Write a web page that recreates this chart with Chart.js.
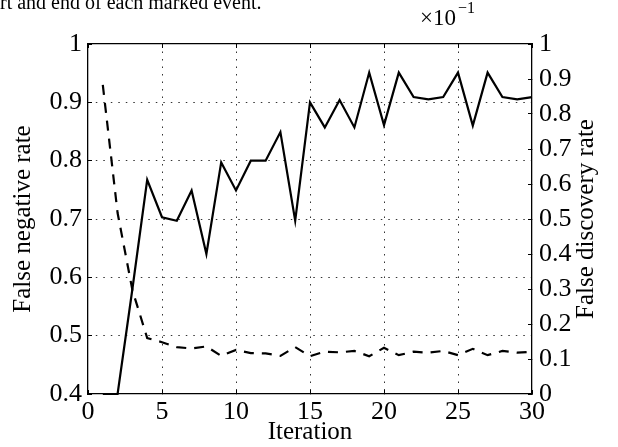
<!DOCTYPE html>
<html>
<head>
<meta charset="utf-8">
<script src="https://cdn.jsdelivr.net/npm/chart.js@4"></script>
<style>
  html, body { margin: 0; padding: 0; background: #fff; }
  #wrap { position: relative; width: 618px; height: 447px; }
</style>
</head>
<body>
<div id="wrap"><canvas id="chart" width="618" height="447"></canvas></div>
<script>
const iterations = [1, 2, 3, 4, 5, 6, 7, 8, 9, 10, 11, 12, 13, 14, 15,
                    16, 17, 18, 19, 20, 21, 22, 23, 24, 25, 26, 27, 28, 29, 30];
// false negative rate (left axis)
const falseNegative = [0.4, 0.4, 0.58, 0.767, 0.703, 0.697, 0.749, 0.64, 0.797, 0.749,
                       0.8, 0.8, 0.849, 0.697, 0.9, 0.857, 0.904, 0.857, 0.951, 0.861,
                       0.951, 0.909, 0.905, 0.909, 0.951, 0.86, 0.951, 0.909, 0.905, 0.909];
// false discovery rate, in units of 1e-1 (right axis)
const falseDiscovery = [0.883, 0.517, 0.297, 0.16, 0.148, 0.134, 0.13, 0.136, 0.109, 0.126,
                        0.117, 0.116, 0.109, 0.134, 0.108, 0.121, 0.119, 0.123, 0.108, 0.132,
                        0.111, 0.121, 0.118, 0.123, 0.111, 0.129, 0.111, 0.123, 0.118, 0.121];
const xTicks = [0, 5, 10, 15, 20, 25, 30];
const caption = 'rt and end of each marked event.';
const leftTitle = 'False negative rate';
const rightTitle = 'False discovery rate';
const bottomTitle = 'Iteration';

const SERIF = '"Liberation Serif", "Times New Roman", serif';
const tickFont = { family: SERIF, size: 26 };
const dotted = [1.5, 6];

const fmt = (v) => (Math.abs(v - 1) < 1e-9 ? '1' : Math.abs(v) < 1e-9 ? '0' : v.toFixed(1));
const hideEdge = (lo, hi) => (c) =>
    (c.tick && (Math.abs(c.tick.value - lo) < 1e-6 || Math.abs(c.tick.value - hi) < 1e-6)) ? 'rgba(0,0,0,0)' : '#333';

const extraText = {
    id: 'extraText',
    afterDraw(chart) {
        const ctx = chart.ctx;
        const area = chart.chartArea;
        ctx.save();
        ctx.fillStyle = '#000';
        // clipped caption line from the page above
        ctx.font = '20px ' + SERIF;
        ctx.textBaseline = 'alphabetic';
        ctx.textAlign = 'left';
        ctx.fillText(caption, 0, 9);
        // exponent label above right axis
        ctx.font = '23px ' + SERIF;
        ctx.fillText('×10', area.right - 112, 25);
        ctx.font = '16px ' + SERIF;
        ctx.fillText('−1', area.right - 74, 13);
        // right axis title, reading bottom to top
        ctx.font = '25px ' + SERIF;
        ctx.textAlign = 'center';
        ctx.textBaseline = 'middle';
        ctx.translate(area.right + 54, (area.top + area.bottom) / 2);
        ctx.rotate(-Math.PI / 2);
        ctx.fillText(rightTitle, 0, 0);
        ctx.restore();
    }
};

const ctx = document.getElementById('chart').getContext('2d');
new Chart(ctx, {
    type: 'line',
    data: {
        datasets: [{
            label: leftTitle,
            data: iterations.map((x, i) => ({ x: x, y: falseNegative[i] })),
            yAxisID: 'y',
            borderColor: '#000',
            borderWidth: 2.2,
            pointRadius: 0,
            tension: 0,
            clip: 4
        }, {
            label: rightTitle,
            data: iterations.map((x, i) => ({ x: x, y: falseDiscovery[i] })),
            yAxisID: 'y2',
            borderColor: '#000',
            borderWidth: 2.2,
            borderDash: [10, 8],
            pointRadius: 0,
            tension: 0
        }]
    },
    options: {
        responsive: false,
        animation: false,
        devicePixelRatio: 1,
        layout: { padding: { top: 44, bottom: 0, left: 0, right: 0 } },
        plugins: { legend: { display: false }, tooltip: { enabled: false } },
        scales: {
            x: {
                type: 'linear',
                position: 'bottom',
                min: 0, max: 30,
                afterBuildTicks: (s) => { s.ticks = xTicks.map(v => ({ value: v })); },
                afterFit: (s) => { s.height = 53; },
                ticks: { font: tickFont, color: '#000', padding: 7, maxRotation: 0, autoSkip: false },
                grid: {
                    color: hideEdge(0, 30),
                    lineWidth: 1,
                    tickLength: -4,
                    tickColor: '#000',
                    tickBorderDash: []
                },
                border: { display: true, color: '#000', width: 1.3, dash: dotted },
                title: {
                    display: true, text: bottomTitle, color: '#000',
                    font: { family: SERIF, size: 25 },
                    padding: { top: 0, bottom: 0 }
                }
            },
            x2: {
                type: 'linear',
                position: 'top',
                min: 0, max: 30,
                afterBuildTicks: (s) => { s.ticks = xTicks.map(v => ({ value: v })); },
                afterFit: (s) => { s.height = 0; },
                ticks: { display: false },
                grid: { drawOnChartArea: false, tickLength: -4, tickColor: '#000' },
                border: { display: true, color: '#000', width: 1.3 }
            },
            y: {
                position: 'left',
                min: 0.4, max: 1,
                afterFit: (s) => { s.width = 88; },
                ticks: { stepSize: 0.1, font: tickFont, color: '#000', padding: 10, callback: fmt },
                grid: {
                    color: hideEdge(0.4, 1),
                    lineWidth: 1,
                    tickLength: -4,
                    tickColor: '#000',
                    tickBorderDash: []
                },
                border: { display: true, color: '#000', width: 1.3, dash: dotted },
                title: {
                    display: true, text: leftTitle, color: '#000',
                    font: { family: SERIF, size: 25 },
                    padding: { top: 8, bottom: 0 }
                }
            },
            y2: {
                position: 'right',
                min: 0, max: 1,
                afterFit: (s) => { s.width = 86; },
                ticks: { stepSize: 0.1, font: tickFont, color: '#000', padding: 11, callback: fmt },
                grid: { drawOnChartArea: false, tickLength: -4, tickColor: '#000' },
                border: { display: true, color: '#000', width: 1.3 }
            }
        }
    },
    plugins: [extraText]
});
</script>
</body>
</html>
